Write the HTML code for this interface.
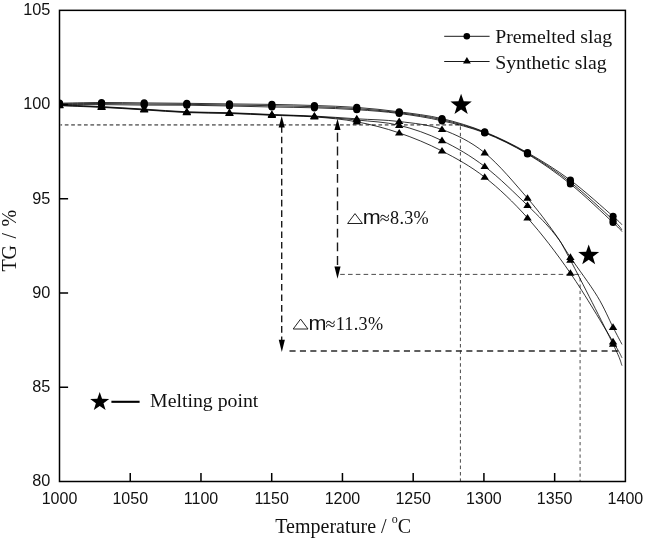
<!DOCTYPE html>
<html><head><meta charset="utf-8"><title>TG chart</title>
<style>html,body{margin:0;padding:0;background:#fff;}body{width:645px;height:540px;position:relative;overflow:hidden;font-family:"Liberation Sans",sans-serif;}</style></head>
<body>
<svg width="645" height="540" viewBox="0 0 645 540" style="position:absolute;left:0;top:0;will-change:transform">
<defs><clipPath id="cp"><rect x="59.50" y="10.35" width="565.90" height="471.15"/></clipPath></defs>
<rect width="645" height="540" fill="#fff"/>
<path d="M60.50 124.9 H460.8" stroke="#7a7a7a" stroke-width="1.6" stroke-dasharray="3.7 2.7" stroke-dashoffset="2.1" fill="none"/>
<path d="M460.4 124.5 V481.50" stroke="#484848" stroke-width="1.0" stroke-dasharray="3.5 2.9" stroke-dashoffset="-1.9" fill="none"/>
<path d="M340.2 274.4 H580" stroke="#383838" stroke-width="0.9" stroke-dasharray="4.6 3.2" fill="none"/>
<path d="M580.1 274.4 V481.50" stroke="#747474" stroke-width="1.3" stroke-dasharray="3.3 3.0" stroke-dashoffset="-3.7" fill="none"/>
<path d="M289.5 350.9 H620" stroke="#2a2a2a" stroke-width="1.5" stroke-dasharray="6.1 4.3" fill="none"/>
<path d="M281.7 126.2 V341" stroke="#1a1a1a" stroke-width="1.4" stroke-dasharray="6.6 3.92" fill="none"/>
<path d="M337.5 132.8 V268" stroke="#1a1a1a" stroke-width="1.4" stroke-dasharray="8.9 4.8" fill="none"/>
<polygon points="281.80,352.00 278.75,339.70 284.85,339.70" fill="#000"/>
<polygon points="337.50,278.80 334.45,266.50 340.55,266.50" fill="#000"/>
<polygon points="281.70,115.90 278.65,127.50 284.75,127.50" fill="#000"/>
<polygon points="337.50,118.70 334.45,130.10 340.55,130.10" fill="#000"/>
<g clip-path="url(#cp)">
<path d="M59.50 103.20 C66.51 103.08 87.43 102.55 101.55 102.50 C115.67 102.45 129.99 102.77 144.20 102.90 C158.41 103.03 172.59 103.13 186.80 103.30 C201.01 103.47 215.27 103.72 229.45 103.90 C243.63 104.08 257.74 104.13 271.90 104.40 C286.06 104.67 300.25 105.00 314.40 105.50 C328.55 106.00 342.67 106.35 356.80 107.40 C370.93 108.45 385.00 109.93 399.20 111.80 C413.40 113.67 427.75 115.25 442.00 118.60 C456.25 121.95 470.45 126.22 484.70 131.90 C498.95 137.58 513.22 144.65 527.50 152.70 C541.78 160.75 556.14 169.60 570.40 180.20 C584.66 190.80 604.45 208.87 613.05 216.30 C621.65 223.73 620.51 223.38 622.00 224.80" stroke="#000" stroke-width="0.8" fill="none"/>
<path d="M59.50 103.90 C66.51 103.83 87.43 103.48 101.55 103.50 C115.67 103.52 129.99 103.87 144.20 104.00 C158.41 104.13 172.59 104.13 186.80 104.30 C201.01 104.47 215.27 104.77 229.45 105.00 C243.63 105.23 257.74 105.42 271.90 105.70 C286.06 105.98 300.25 106.22 314.40 106.70 C328.55 107.18 342.67 107.60 356.80 108.60 C370.93 109.60 385.00 110.85 399.20 112.70 C413.40 114.55 427.75 116.42 442.00 119.70 C456.25 122.98 470.45 126.78 484.70 132.40 C498.95 138.02 513.22 145.10 527.50 153.40 C541.78 161.70 556.14 171.10 570.40 182.20 C584.66 193.30 604.45 212.03 613.05 220.00 C621.65 227.97 620.51 228.33 622.00 230.00" stroke="#000" stroke-width="0.8" fill="none"/>
<path d="M59.50 104.60 C66.51 104.60 87.43 104.52 101.55 104.60 C115.67 104.68 129.99 105.00 144.20 105.10 C158.41 105.20 172.59 105.05 186.80 105.20 C201.01 105.35 215.27 105.70 229.45 106.00 C243.63 106.30 257.74 106.70 271.90 107.00 C286.06 107.30 300.25 107.35 314.40 107.80 C328.55 108.25 342.67 108.75 356.80 109.70 C370.93 110.65 385.00 111.65 399.20 113.50 C413.40 115.35 427.75 117.57 442.00 120.80 C456.25 124.03 470.45 127.37 484.70 132.90 C498.95 138.43 513.22 145.48 527.50 154.00 C541.78 162.52 556.14 172.58 570.40 184.00 C584.66 195.42 604.45 214.57 613.05 222.50 C621.65 230.43 620.51 230.08 622.00 231.60" stroke="#000" stroke-width="0.8" fill="none"/>
<path d="M59.50 104.80 C66.51 105.10 87.43 105.88 101.55 106.60 C115.67 107.32 129.99 108.23 144.20 109.10 C158.41 109.97 172.59 111.20 186.80 111.80 C201.01 112.40 215.27 112.25 229.45 112.70 C243.63 113.15 257.74 113.93 271.90 114.50 C286.06 115.07 300.25 115.38 314.40 116.10 C328.55 116.82 342.67 117.90 356.80 118.80 C370.93 119.70 385.00 119.72 399.20 121.50 C413.40 123.28 427.75 124.28 442.00 129.50 C456.25 134.72 470.45 141.35 484.70 152.80 C498.95 164.25 515.87 184.83 527.50 198.20 C539.13 211.57 547.35 223.15 554.50 233.00 C561.65 242.85 563.27 246.75 570.40 257.30 C577.53 267.85 590.19 284.63 597.30 296.30 C604.41 307.97 608.93 319.28 613.05 327.30 C617.17 335.32 620.51 341.55 622.00 344.40" stroke="#000" stroke-width="0.8" fill="none"/>
<path d="M59.50 105.30 C66.51 105.58 87.43 106.30 101.55 107.00 C115.67 107.70 129.99 108.63 144.20 109.50 C158.41 110.37 172.59 111.60 186.80 112.20 C201.01 112.80 215.27 112.65 229.45 113.10 C243.63 113.55 257.74 114.33 271.90 114.90 C286.06 115.47 300.25 115.65 314.40 116.50 C328.55 117.35 342.67 118.53 356.80 120.00 C370.93 121.47 385.00 121.87 399.20 125.30 C413.40 128.73 427.75 133.73 442.00 140.60 C456.25 147.47 470.45 155.70 484.70 166.50 C498.95 177.30 515.87 194.17 527.50 205.40 C539.13 216.63 547.35 224.78 554.50 233.90 C561.65 243.02 560.64 241.73 570.40 260.10 C580.16 278.47 604.45 326.52 613.05 344.10 C621.65 361.68 620.51 362.02 622.00 365.60" stroke="#000" stroke-width="0.8" fill="none"/>
<path d="M59.50 105.70 C66.51 105.98 87.43 106.70 101.55 107.40 C115.67 108.10 129.99 109.03 144.20 109.90 C158.41 110.77 172.59 112.00 186.80 112.60 C201.01 113.20 215.27 113.05 229.45 113.50 C243.63 113.95 257.74 114.73 271.90 115.30 C286.06 115.87 300.25 115.82 314.40 116.90 C328.55 117.98 342.67 119.13 356.80 121.80 C370.93 124.47 385.00 128.03 399.20 132.90 C413.40 137.77 427.75 143.62 442.00 151.00 C456.25 158.38 470.45 166.05 484.70 177.20 C498.95 188.35 513.22 201.90 527.50 217.90 C541.78 233.90 556.14 252.55 570.40 273.20 C584.66 293.85 604.45 327.70 613.05 341.80 C621.65 355.90 620.51 355.13 622.00 357.80" stroke="#000" stroke-width="0.8" fill="none"/>
<circle cx="59.50" cy="103.20" r="3.6" fill="#000"/>
<circle cx="101.55" cy="102.50" r="3.6" fill="#000"/>
<circle cx="144.20" cy="102.90" r="3.6" fill="#000"/>
<circle cx="186.80" cy="103.30" r="3.6" fill="#000"/>
<circle cx="229.45" cy="103.90" r="3.6" fill="#000"/>
<circle cx="271.90" cy="104.40" r="3.6" fill="#000"/>
<circle cx="314.40" cy="105.50" r="3.6" fill="#000"/>
<circle cx="356.80" cy="107.40" r="3.6" fill="#000"/>
<circle cx="399.20" cy="111.80" r="3.6" fill="#000"/>
<circle cx="442.00" cy="118.60" r="3.6" fill="#000"/>
<circle cx="484.70" cy="131.90" r="3.6" fill="#000"/>
<circle cx="527.50" cy="152.70" r="3.6" fill="#000"/>
<circle cx="570.40" cy="180.20" r="3.6" fill="#000"/>
<circle cx="613.05" cy="216.30" r="3.6" fill="#000"/>
<circle cx="59.50" cy="103.90" r="3.6" fill="#000"/>
<circle cx="101.55" cy="103.50" r="3.6" fill="#000"/>
<circle cx="144.20" cy="104.00" r="3.6" fill="#000"/>
<circle cx="186.80" cy="104.30" r="3.6" fill="#000"/>
<circle cx="229.45" cy="105.00" r="3.6" fill="#000"/>
<circle cx="271.90" cy="105.70" r="3.6" fill="#000"/>
<circle cx="314.40" cy="106.70" r="3.6" fill="#000"/>
<circle cx="356.80" cy="108.60" r="3.6" fill="#000"/>
<circle cx="399.20" cy="112.70" r="3.6" fill="#000"/>
<circle cx="442.00" cy="119.70" r="3.6" fill="#000"/>
<circle cx="484.70" cy="132.40" r="3.6" fill="#000"/>
<circle cx="527.50" cy="153.40" r="3.6" fill="#000"/>
<circle cx="570.40" cy="182.20" r="3.6" fill="#000"/>
<circle cx="613.05" cy="220.00" r="3.6" fill="#000"/>
<circle cx="59.50" cy="104.60" r="3.6" fill="#000"/>
<circle cx="101.55" cy="104.60" r="3.6" fill="#000"/>
<circle cx="144.20" cy="105.10" r="3.6" fill="#000"/>
<circle cx="186.80" cy="105.20" r="3.6" fill="#000"/>
<circle cx="229.45" cy="106.00" r="3.6" fill="#000"/>
<circle cx="271.90" cy="107.00" r="3.6" fill="#000"/>
<circle cx="314.40" cy="107.80" r="3.6" fill="#000"/>
<circle cx="356.80" cy="109.70" r="3.6" fill="#000"/>
<circle cx="399.20" cy="113.50" r="3.6" fill="#000"/>
<circle cx="442.00" cy="120.80" r="3.6" fill="#000"/>
<circle cx="484.70" cy="132.90" r="3.6" fill="#000"/>
<circle cx="527.50" cy="154.00" r="3.6" fill="#000"/>
<circle cx="570.40" cy="184.00" r="3.6" fill="#000"/>
<circle cx="613.05" cy="222.50" r="3.6" fill="#000"/>
<polygon points="59.50,100.80 55.30,107.40 63.70,107.40" fill="#000"/>
<polygon points="101.55,102.60 97.35,109.20 105.75,109.20" fill="#000"/>
<polygon points="144.20,105.10 140.00,111.70 148.40,111.70" fill="#000"/>
<polygon points="186.80,107.80 182.60,114.40 191.00,114.40" fill="#000"/>
<polygon points="229.45,108.70 225.25,115.30 233.65,115.30" fill="#000"/>
<polygon points="271.90,110.50 267.70,117.10 276.10,117.10" fill="#000"/>
<polygon points="314.40,112.10 310.20,118.70 318.60,118.70" fill="#000"/>
<polygon points="356.80,114.80 352.60,121.40 361.00,121.40" fill="#000"/>
<polygon points="399.20,117.50 395.00,124.10 403.40,124.10" fill="#000"/>
<polygon points="442.00,125.50 437.80,132.10 446.20,132.10" fill="#000"/>
<polygon points="484.70,148.80 480.50,155.40 488.90,155.40" fill="#000"/>
<polygon points="527.50,194.20 523.30,200.80 531.70,200.80" fill="#000"/>
<polygon points="570.40,253.30 566.20,259.90 574.60,259.90" fill="#000"/>
<polygon points="613.05,323.30 608.85,329.90 617.25,329.90" fill="#000"/>
<polygon points="59.50,101.30 55.30,107.90 63.70,107.90" fill="#000"/>
<polygon points="101.55,103.00 97.35,109.60 105.75,109.60" fill="#000"/>
<polygon points="144.20,105.50 140.00,112.10 148.40,112.10" fill="#000"/>
<polygon points="186.80,108.20 182.60,114.80 191.00,114.80" fill="#000"/>
<polygon points="229.45,109.10 225.25,115.70 233.65,115.70" fill="#000"/>
<polygon points="271.90,110.90 267.70,117.50 276.10,117.50" fill="#000"/>
<polygon points="314.40,112.50 310.20,119.10 318.60,119.10" fill="#000"/>
<polygon points="356.80,116.00 352.60,122.60 361.00,122.60" fill="#000"/>
<polygon points="399.20,121.30 395.00,127.90 403.40,127.90" fill="#000"/>
<polygon points="442.00,136.60 437.80,143.20 446.20,143.20" fill="#000"/>
<polygon points="484.70,162.50 480.50,169.10 488.90,169.10" fill="#000"/>
<polygon points="527.50,201.40 523.30,208.00 531.70,208.00" fill="#000"/>
<polygon points="570.40,256.10 566.20,262.70 574.60,262.70" fill="#000"/>
<polygon points="613.05,340.10 608.85,346.70 617.25,346.70" fill="#000"/>
<polygon points="59.50,101.70 55.30,108.30 63.70,108.30" fill="#000"/>
<polygon points="101.55,103.40 97.35,110.00 105.75,110.00" fill="#000"/>
<polygon points="144.20,105.90 140.00,112.50 148.40,112.50" fill="#000"/>
<polygon points="186.80,108.60 182.60,115.20 191.00,115.20" fill="#000"/>
<polygon points="229.45,109.50 225.25,116.10 233.65,116.10" fill="#000"/>
<polygon points="271.90,111.30 267.70,117.90 276.10,117.90" fill="#000"/>
<polygon points="314.40,112.90 310.20,119.50 318.60,119.50" fill="#000"/>
<polygon points="356.80,117.80 352.60,124.40 361.00,124.40" fill="#000"/>
<polygon points="399.20,128.90 395.00,135.50 403.40,135.50" fill="#000"/>
<polygon points="442.00,147.00 437.80,153.60 446.20,153.60" fill="#000"/>
<polygon points="484.70,173.20 480.50,179.80 488.90,179.80" fill="#000"/>
<polygon points="527.50,213.90 523.30,220.50 531.70,220.50" fill="#000"/>
<polygon points="570.40,269.20 566.20,275.80 574.60,275.80" fill="#000"/>
<polygon points="613.05,337.80 608.85,344.40 617.25,344.40" fill="#000"/>
</g>
<polygon points="461.10,93.75 463.75,101.36 471.80,101.52 465.38,106.39 467.71,114.10 461.10,109.50 454.49,114.10 456.82,106.39 450.40,101.52 458.45,101.36" fill="#000"/>
<polygon points="588.70,244.40 591.29,251.84 599.16,252.00 592.88,256.76 595.17,264.30 588.70,259.80 582.23,264.30 584.52,256.76 578.24,252.00 586.11,251.84" fill="#000"/>
<polygon points="99.70,392.00 102.05,398.76 109.21,398.91 103.50,403.24 105.58,410.09 99.70,406.00 93.82,410.09 95.90,403.24 90.19,398.91 97.35,398.76" fill="#000"/>
<path d="M111.4 401.8 H139.6" stroke="#000" stroke-width="2.1"/>
<path d="M444.2 36.3 H489.6 M444.2 61.5 H489.6" stroke="#000" stroke-width="0.9"/>
<circle cx="466.8" cy="36.3" r="3.3" fill="#000"/>
<polygon points="466.90,56.90 463.00,63.60 470.80,63.60" fill="#000"/>
<rect x="59.50" y="10.35" width="565.90" height="471.15" fill="none" stroke="#000" stroke-width="1.5"/>
<path d="M130.24 481.50 v-8.6 M200.97 481.50 v-8.6 M271.71 481.50 v-8.6 M342.45 481.50 v-8.6 M413.19 481.50 v-8.6 M483.92 481.50 v-8.6 M554.66 481.50 v-8.6 M59.50 104.58 h8.6 M59.50 198.81 h8.6 M59.50 293.04 h8.6 M59.50 387.27 h8.6" stroke="#000" stroke-width="1.5"/>
<polygon points="355.00,213.60 347.60,223.50 362.40,223.50" fill="none" stroke="#222" stroke-width="1"/>
<text transform="translate(362.80,224.20) scale(1.1,1)" font-size="19.6" font-family="Liberation Sans, sans-serif" fill="#111">m</text>
<text x="379.80" y="224.20" font-size="18.2" letter-spacing="0.27" font-family="Liberation Serif, serif" fill="#111">≈8.3%</text>
<polygon points="300.60,319.10 293.20,329.00 308.00,329.00" fill="none" stroke="#222" stroke-width="1"/>
<text transform="translate(308.40,329.70) scale(1.1,1)" font-size="19.6" font-family="Liberation Sans, sans-serif" fill="#111">m</text>
<text x="325.40" y="329.70" font-size="18.2" letter-spacing="0.27" font-family="Liberation Serif, serif" fill="#111">≈11.3%</text>
<text x="59.50" y="503.8" font-size="16" text-anchor="middle" font-family="Liberation Sans, sans-serif" fill="#111">1000</text>
<text x="130.24" y="503.8" font-size="16" text-anchor="middle" font-family="Liberation Sans, sans-serif" fill="#111">1050</text>
<text x="200.97" y="503.8" font-size="16" text-anchor="middle" font-family="Liberation Sans, sans-serif" fill="#111">1100</text>
<text x="271.71" y="503.8" font-size="16" text-anchor="middle" font-family="Liberation Sans, sans-serif" fill="#111">1150</text>
<text x="342.45" y="503.8" font-size="16" text-anchor="middle" font-family="Liberation Sans, sans-serif" fill="#111">1200</text>
<text x="413.19" y="503.8" font-size="16" text-anchor="middle" font-family="Liberation Sans, sans-serif" fill="#111">1250</text>
<text x="483.92" y="503.8" font-size="16" text-anchor="middle" font-family="Liberation Sans, sans-serif" fill="#111">1300</text>
<text x="554.66" y="503.8" font-size="16" text-anchor="middle" font-family="Liberation Sans, sans-serif" fill="#111">1350</text>
<text x="625.40" y="503.8" font-size="16" text-anchor="middle" font-family="Liberation Sans, sans-serif" fill="#111">1400</text>
<text x="50.3" y="15.15" font-size="16.3" text-anchor="end" font-family="Liberation Sans, sans-serif" fill="#111">105</text>
<text x="50.3" y="109.38" font-size="16.3" text-anchor="end" font-family="Liberation Sans, sans-serif" fill="#111">100</text>
<text x="50.3" y="203.61" font-size="16.3" text-anchor="end" font-family="Liberation Sans, sans-serif" fill="#111">95</text>
<text x="50.3" y="297.84" font-size="16.3" text-anchor="end" font-family="Liberation Sans, sans-serif" fill="#111">90</text>
<text x="50.3" y="392.07" font-size="16.3" text-anchor="end" font-family="Liberation Sans, sans-serif" fill="#111">85</text>
<text x="50.3" y="486.30" font-size="16.3" text-anchor="end" font-family="Liberation Sans, sans-serif" fill="#111">80</text>
<text x="495.2" y="43.2" font-size="19.8" font-family="Liberation Serif, serif" fill="#111">Premelted slag</text>
<text x="495.2" y="68.8" font-size="19.8" font-family="Liberation Serif, serif" fill="#111">Synthetic slag</text>
<text x="150.1" y="407.0" font-size="19.8" font-family="Liberation Serif, serif" fill="#111">Melting point</text>
<text x="275.3" y="533" font-size="20" font-family="Liberation Serif, serif" fill="#111">Temperature / <tspan font-size="12" dy="-10.2">o</tspan><tspan dy="10.2">C</tspan></text>
<text transform="translate(16.2,271.6) rotate(-90)" font-size="20" word-spacing="1.4" font-family="Liberation Serif, serif" fill="#111">TG / %</text>
</svg>
</body></html>
